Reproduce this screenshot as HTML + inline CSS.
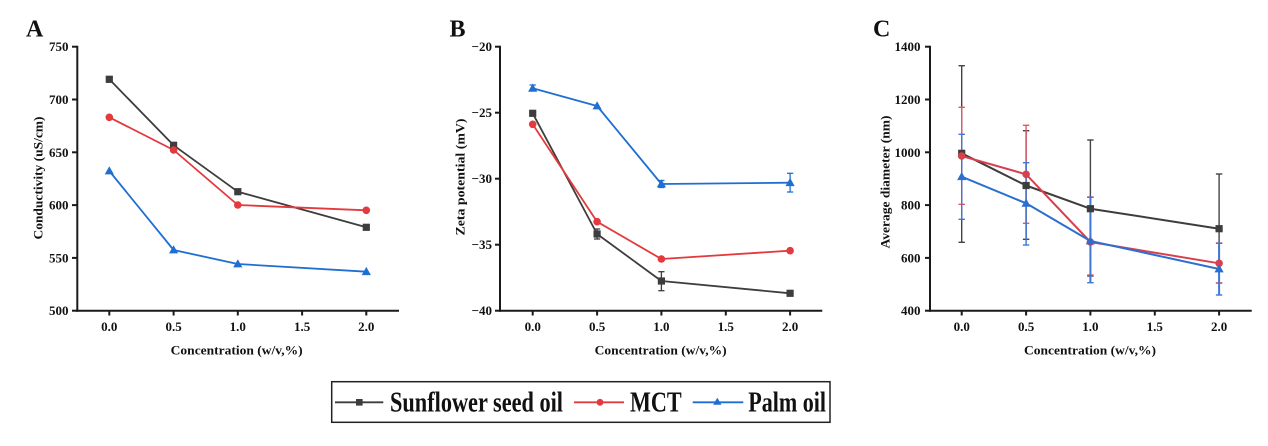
<!DOCTYPE html>
<html><head><meta charset="utf-8"><style>
html,body{margin:0;padding:0;background:#fff;}
svg{display:block;}
text{font-family:"Liberation Serif","Times New Roman",serif;font-weight:bold;fill:#111;}
</style></head><body>
<svg width="1268" height="446" viewBox="0 0 1268 446" xmlns="http://www.w3.org/2000/svg">
<rect width="1268" height="446" fill="#fff"/>
<defs>
<rect id="sq" x="-3.6" y="-3.6" width="7.2" height="7.2"/>
<circle id="ci" r="3.8"/>
<polygon id="tr" points="0,-4.8 4.6,3.4 -4.6,3.4"/>
</defs>

<!-- ================= PANEL A ================= -->
<text x="26" y="36.5" font-size="24">A</text>
<g stroke="#1a1a1a" stroke-width="2" fill="none">
<line x1="77.3" y1="45.7" x2="77.3" y2="311.7"/>
<line x1="76.3" y1="310.7" x2="399" y2="310.7"/>
<line x1="72" y1="46.7" x2="77" y2="46.7"/>
<line x1="72" y1="99.5" x2="77" y2="99.5"/>
<line x1="72" y1="152.3" x2="77" y2="152.3"/>
<line x1="72" y1="205.1" x2="77" y2="205.1"/>
<line x1="72" y1="257.9" x2="77" y2="257.9"/>
<line x1="72" y1="310.7" x2="77" y2="310.7"/>
<line x1="109.3" y1="311" x2="109.3" y2="315.5"/>
<line x1="173.6" y1="311" x2="173.6" y2="315.5"/>
<line x1="237.8" y1="311" x2="237.8" y2="315.5"/>
<line x1="302.1" y1="311" x2="302.1" y2="315.5"/>
<line x1="366.3" y1="311" x2="366.3" y2="315.5"/>
</g>
<g font-size="13" text-anchor="end">
<text x="68.5" y="51.2">750</text>
<text x="68.5" y="104">700</text>
<text x="68.5" y="156.8">650</text>
<text x="68.5" y="209.6">600</text>
<text x="68.5" y="262.4">550</text>
<text x="68.5" y="315.2">500</text>
</g>
<g font-size="13" text-anchor="middle">
<text x="109.3" y="330.8">0.0</text>
<text x="173.6" y="330.8">0.5</text>
<text x="237.8" y="330.8">1.0</text>
<text x="302.1" y="330.8">1.5</text>
<text x="366.3" y="330.8">2.0</text>
</g>
<text x="170.7" y="354.6" font-size="13" textLength="132" lengthAdjust="spacingAndGlyphs">Concentration (w/v,%)</text>
<text transform="translate(42.3,178) rotate(-90)" font-size="13" text-anchor="middle" textLength="123" lengthAdjust="spacingAndGlyphs">Conductivity (uS/cm)</text>

<g fill="none" stroke-width="1.8" stroke-linejoin="round">
<polyline stroke="#3d3d3d" points="109.3,79.3 173.6,145.3 237.8,191.7 366.3,227.3"/>
<polyline stroke="#e23a3e" points="109.3,117.3 173.6,150 237.8,205 366.3,210.3"/>
<polyline stroke="#1f6fd2" points="109.3,171 173.6,250 237.8,264 366.3,271.7"/>
</g>
<g stroke-width="1.2">
<g stroke="#3d3d3d"><line x1="109.3" y1="76.5" x2="109.3" y2="82"/><line x1="106" y1="76.5" x2="112.6" y2="76.5"/><line x1="106" y1="82" x2="112.6" y2="82"/>
<line x1="173.6" y1="142.5" x2="173.6" y2="148"/><line x1="170.3" y1="142.5" x2="176.9" y2="142.5"/><line x1="170.3" y1="148" x2="176.9" y2="148"/></g>
</g>
<g fill="#3d3d3d"><use href="#sq" x="109.3" y="79.3"/><use href="#sq" x="173.6" y="145.3"/><use href="#sq" x="237.8" y="191.7"/><use href="#sq" x="366.3" y="227.3"/></g>
<g fill="#e23a3e"><use href="#ci" x="109.3" y="117.3"/><use href="#ci" x="173.6" y="150"/><use href="#ci" x="237.8" y="205"/><use href="#ci" x="366.3" y="210.3"/></g>
<g fill="#1f6fd2"><use href="#tr" x="109.3" y="171"/><use href="#tr" x="173.6" y="250"/><use href="#tr" x="237.8" y="264"/><use href="#tr" x="366.3" y="271.7"/></g>

<!-- ================= PANEL B ================= -->
<text x="449.5" y="36.5" font-size="24">B</text>
<g stroke="#1a1a1a" stroke-width="2" fill="none">
<line x1="500" y1="45.7" x2="500" y2="311.7"/>
<line x1="499" y1="310.7" x2="822.3" y2="310.7"/>
<line x1="495" y1="46.7" x2="500" y2="46.7"/>
<line x1="495" y1="112.7" x2="500" y2="112.7"/>
<line x1="495" y1="178.7" x2="500" y2="178.7"/>
<line x1="495" y1="244.7" x2="500" y2="244.7"/>
<line x1="495" y1="310.7" x2="500" y2="310.7"/>
<line x1="532.7" y1="311" x2="532.7" y2="315.5"/>
<line x1="597.1" y1="311" x2="597.1" y2="315.5"/>
<line x1="661.4" y1="311" x2="661.4" y2="315.5"/>
<line x1="725.8" y1="311" x2="725.8" y2="315.5"/>
<line x1="790.1" y1="311" x2="790.1" y2="315.5"/>
</g>
<g font-size="13" text-anchor="end">
<text x="492" y="51.2">−20</text>
<text x="492" y="117.2">−25</text>
<text x="492" y="183.2">−30</text>
<text x="492" y="249.2">−35</text>
<text x="492" y="315.2">−40</text>
</g>
<g font-size="13" text-anchor="middle">
<text x="532.7" y="330.8">0.0</text>
<text x="597.1" y="330.8">0.5</text>
<text x="661.4" y="330.8">1.0</text>
<text x="725.8" y="330.8">1.5</text>
<text x="790.1" y="330.8">2.0</text>
</g>
<text x="594.7" y="354.6" font-size="13" textLength="132" lengthAdjust="spacingAndGlyphs">Concentration (w/v,%)</text>
<text transform="translate(464.5,177) rotate(-90)" font-size="13" text-anchor="middle" textLength="117" lengthAdjust="spacingAndGlyphs">Zeta potential (mV)</text>

<g fill="none" stroke-width="1.8" stroke-linejoin="round">
<polyline stroke="#3d3d3d" points="532.7,113.3 597.1,234 661.4,281 790.1,293.3"/>
<polyline stroke="#e23a3e" points="532.7,124.3 597.1,221.7 661.4,259 790.1,250.7"/>
<polyline stroke="#1f6fd2" points="532.7,88.3 597.1,106 661.4,184 790.1,182.7"/>
</g>
<g stroke-width="1.3" fill="none">
<g stroke="#3d3d3d">
<line x1="597.1" y1="229" x2="597.1" y2="239"/><line x1="594" y1="229" x2="600.2" y2="229"/><line x1="594" y1="239" x2="600.2" y2="239"/>
<line x1="661.4" y1="271.7" x2="661.4" y2="290.7"/><line x1="658.3" y1="271.7" x2="664.5" y2="271.7"/><line x1="658.3" y1="290.7" x2="664.5" y2="290.7"/>
</g>
<g stroke="#1f6fd2">
<line x1="532.7" y1="85" x2="532.7" y2="91.5"/><line x1="529.6" y1="85" x2="535.8" y2="85"/>
<line x1="661.4" y1="180.5" x2="661.4" y2="187.5"/><line x1="658.3" y1="180.5" x2="664.5" y2="180.5"/><line x1="658.3" y1="187.5" x2="664.5" y2="187.5"/>
<line x1="790.1" y1="173.3" x2="790.1" y2="192"/><line x1="787" y1="173.3" x2="793.2" y2="173.3"/><line x1="787" y1="192" x2="793.2" y2="192"/>
</g>
</g>
<g fill="#3d3d3d"><use href="#sq" x="532.7" y="113.3"/><use href="#sq" x="597.1" y="234"/><use href="#sq" x="661.4" y="281"/><use href="#sq" x="790.1" y="293.3"/></g>
<g fill="#e23a3e"><use href="#ci" x="532.7" y="124.3"/><use href="#ci" x="597.1" y="221.7"/><use href="#ci" x="661.4" y="259"/><use href="#ci" x="790.1" y="250.7"/></g>
<g fill="#1f6fd2"><use href="#tr" x="532.7" y="88.3"/><use href="#tr" x="597.1" y="106"/><use href="#tr" x="661.4" y="184"/><use href="#tr" x="790.1" y="182.7"/></g>

<!-- ================= PANEL C ================= -->
<text x="873" y="36.5" font-size="24">C</text>
<g stroke="#1a1a1a" stroke-width="2" fill="none">
<line x1="930" y1="45.7" x2="930" y2="311.7"/>
<line x1="929" y1="310.7" x2="1251.7" y2="310.7"/>
<line x1="925" y1="46.7" x2="930" y2="46.7"/>
<line x1="925" y1="99.5" x2="930" y2="99.5"/>
<line x1="925" y1="152.3" x2="930" y2="152.3"/>
<line x1="925" y1="205.1" x2="930" y2="205.1"/>
<line x1="925" y1="257.9" x2="930" y2="257.9"/>
<line x1="925" y1="310.7" x2="930" y2="310.7"/>
<line x1="961.7" y1="311" x2="961.7" y2="315.5"/>
<line x1="1026.1" y1="311" x2="1026.1" y2="315.5"/>
<line x1="1090.4" y1="311" x2="1090.4" y2="315.5"/>
<line x1="1154.8" y1="311" x2="1154.8" y2="315.5"/>
<line x1="1219.1" y1="311" x2="1219.1" y2="315.5"/>
</g>
<g font-size="13" text-anchor="end">
<text x="920.5" y="51.2">1400</text>
<text x="920.5" y="104">1200</text>
<text x="920.5" y="156.8">1000</text>
<text x="920.5" y="209.6">800</text>
<text x="920.5" y="262.4">600</text>
<text x="920.5" y="315.2">400</text>
</g>
<g font-size="13" text-anchor="middle">
<text x="961.7" y="330.8">0.0</text>
<text x="1026.1" y="330.8">0.5</text>
<text x="1090.4" y="330.8">1.0</text>
<text x="1154.8" y="330.8">1.5</text>
<text x="1219.1" y="330.8">2.0</text>
</g>
<text x="1024" y="354.6" font-size="13" textLength="132" lengthAdjust="spacingAndGlyphs">Concentration (w/v,%)</text>
<text transform="translate(889.5,182) rotate(-90)" font-size="13" text-anchor="middle" textLength="133" lengthAdjust="spacingAndGlyphs">Average diameter (nm)</text>

<!-- error bars C -->
<g stroke-width="1.4" fill="none">
<g stroke="#444">
<line x1="961.7" y1="65.7" x2="961.7" y2="242.3"/><line x1="958.5" y1="65.7" x2="964.9" y2="65.7"/><line x1="958.5" y1="242.3" x2="964.9" y2="242.3"/>
<line x1="1026.1" y1="130.7" x2="1026.1" y2="239.3"/><line x1="1022.9" y1="130.7" x2="1029.3" y2="130.7"/><line x1="1022.9" y1="239.3" x2="1029.3" y2="239.3"/>
<line x1="1090.4" y1="140" x2="1090.4" y2="276"/><line x1="1087.2" y1="140" x2="1093.6" y2="140"/><line x1="1087.2" y1="276" x2="1093.6" y2="276"/>
<line x1="1219.1" y1="174" x2="1219.1" y2="283"/><line x1="1215.9" y1="174" x2="1222.3" y2="174"/><line x1="1215.9" y1="283" x2="1222.3" y2="283"/>
</g>
<g stroke="#df5a68">
<line x1="961.7" y1="107.3" x2="961.7" y2="204.3"/><line x1="958.5" y1="107.3" x2="964.9" y2="107.3"/><line x1="958.5" y1="204.3" x2="964.9" y2="204.3"/>
<line x1="1026.1" y1="125.3" x2="1026.1" y2="223.3"/><line x1="1022.9" y1="125.3" x2="1029.3" y2="125.3"/><line x1="1022.9" y1="223.3" x2="1029.3" y2="223.3"/>
<line x1="1090.4" y1="197" x2="1090.4" y2="275"/><line x1="1087.2" y1="197" x2="1093.6" y2="197"/><line x1="1087.2" y1="275" x2="1093.6" y2="275"/>
<line x1="1219.1" y1="243" x2="1219.1" y2="283"/><line x1="1215.9" y1="243" x2="1222.3" y2="243"/><line x1="1215.9" y1="283" x2="1222.3" y2="283"/>
</g>
<g stroke="#3c78d4">
<line x1="961.7" y1="134.3" x2="961.7" y2="219.3"/><line x1="958.5" y1="134.3" x2="964.9" y2="134.3"/><line x1="958.5" y1="219.3" x2="964.9" y2="219.3"/>
<line x1="1026.1" y1="162.7" x2="1026.1" y2="245"/><line x1="1022.9" y1="162.7" x2="1029.3" y2="162.7"/><line x1="1022.9" y1="245" x2="1029.3" y2="245"/>
<line x1="1090.4" y1="197.3" x2="1090.4" y2="282.7" stroke-width="2"/><line x1="1087.2" y1="197.3" x2="1093.6" y2="197.3"/><line x1="1087.2" y1="282.7" x2="1093.6" y2="282.7"/>
<line x1="1219.1" y1="243.3" x2="1219.1" y2="295" stroke-width="2"/><line x1="1215.9" y1="243.3" x2="1222.3" y2="243.3"/><line x1="1215.9" y1="295" x2="1222.3" y2="295"/>
</g>
</g>
<g fill="none" stroke-width="2" stroke-linejoin="round">
<polyline stroke="#3d3d3d" points="961.7,153.3 1026.1,185.5 1090.4,208.7 1219.1,228.7"/>
<polyline stroke="#d8404e" points="961.7,156 1026.1,174.3 1090.4,242 1219.1,263.3"/>
<polyline stroke="#2b6fd0" points="961.7,176.7 1026.1,203.3 1090.4,241 1219.1,269"/>
</g>
<g fill="#3d3d3d"><use href="#sq" x="961.7" y="153.3"/><use href="#sq" x="1026.1" y="185.5"/><use href="#sq" x="1090.4" y="208.7"/><use href="#sq" x="1219.1" y="228.7"/></g>
<g fill="#d8404e"><use href="#ci" x="961.7" y="156"/><use href="#ci" x="1026.1" y="174.3"/><use href="#ci" x="1090.4" y="242"/><use href="#ci" x="1219.1" y="263.3"/></g>
<g fill="#2b6fd0"><use href="#tr" x="961.7" y="176.7"/><use href="#tr" x="1026.1" y="203.3"/><use href="#tr" x="1090.4" y="241"/><use href="#tr" x="1219.1" y="269"/></g>

<!-- ================= LEGEND ================= -->
<rect x="331.7" y="381.7" width="498.3" height="40.6" fill="#fff" stroke="#222" stroke-width="1.5"/>
<line x1="335" y1="402.3" x2="383.3" y2="402.3" stroke="#3d3d3d" stroke-width="1.8"/>
<rect x="356" y="399" width="6.6" height="6.6" fill="#3d3d3d"/>
<text x="390" y="411.5" font-size="28" textLength="173" lengthAdjust="spacingAndGlyphs">Sunflower seed oil</text>
<line x1="574" y1="402.3" x2="624" y2="402.3" stroke="#e23a3e" stroke-width="1.8"/>
<circle cx="600" cy="402.3" r="3.4" fill="#e23a3e"/>
<text x="630" y="411.5" font-size="28" textLength="51.7" lengthAdjust="spacingAndGlyphs">MCT</text>
<line x1="692.7" y1="402.3" x2="743.3" y2="402.3" stroke="#1f6fd2" stroke-width="1.8"/>
<polygon points="717.3,397.8 721.5,404.8 713.1,404.8" fill="#1f6fd2"/>
<text x="748.3" y="411.5" font-size="28" textLength="77.7" lengthAdjust="spacingAndGlyphs">Palm oil</text>
</svg>
</body></html>
